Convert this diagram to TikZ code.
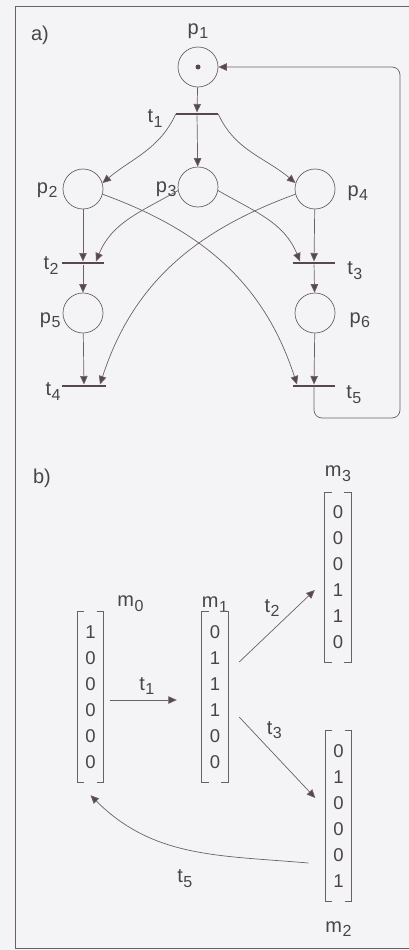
\documentclass[tikz,border=0pt]{standalone}
\usepackage{fontspec}
\setmainfont{Liberation Sans}
\usetikzlibrary{arrows.meta,positioning}

\definecolor{inkline}{RGB}{108,96,104}
\definecolor{inktip}{RGB}{88,70,80}
\definecolor{inktext}{RGB}{72,68,72}
\definecolor{paper}{RGB}{244,244,246}

% letter with a lowered index
\newcommand{\ix}[2]{#1\kern0.5pt\raisebox{-4.5pt}{\fontsize{16}{16}\selectfont#2}}

\tikzset{
  pnode/.style={circle, draw=inkline, line width=0.7pt, minimum size=40pt, inner sep=0pt},
  tbar/.style={rectangle, fill=inktip, minimum width=42pt, minimum height=2.6pt, inner sep=0pt},
  flow/.style={draw=inkline, line width=0.7pt, -{Triangle[length=8.5pt,width=7.5pt,fill=inktip]}},
  vec/.style={align=center, inner xsep=0pt, minimum width=26pt, minimum height=170pt,
              font=\fontsize{18.5}{26}\selectfont},
  brk/.style={draw=inkline, line width=0.7pt},
  tlab/.style={inner sep=0pt, anchor=center},
  every label/.style={font=\fontsize{20}{22}\selectfont, text=inktext, inner sep=0pt},
}

\begin{document}
\begin{tikzpicture}[x=1pt, y=1pt, font=\fontsize{20}{22}\selectfont, text=inktext]
  \fill[paper] (0,0) rectangle (409,-950);
  \useasboundingbox (0,0) rectangle (409,-950);
  \draw[inkline, line width=1pt] (409,-7) -- (15,-7) -- (15,-948) -- (409,-948);

  % a) the net
  \node (la) at (40,-35) {a)};
  \node[pnode, label={[label distance=7.5pt]above:{\ix{p}{1}}}] (p1) at (198,-67) {};
  \fill[inktip] (p1) circle (2.5pt);
  \node[tbar, label={[label distance=13pt, yshift=-4.5pt]left:{\ix{t}{1}}}] (t1) at (197,-114) {};
  \node[pnode, label={[label distance=5pt, yshift=-1pt]left:{\ix{p}{2}}}] (p2) at (83,-189) {};
  \node[pnode, label={[label distance=1pt, yshift=-2pt]left:{\ix{p}{3}}}] (p3) at (198,-187) {};
  \node[pnode, label={[label distance=12pt, yshift=-4pt]right:{\ix{p}{4}}}] (p4) at (315,-189) {};
  \node[tbar, label={[label distance=3pt, yshift=-2.5pt]left:{\ix{t}{2}}}] (t2) at (83,-263) {};
  \node[tbar, label={[label distance=12pt, yshift=-7.5pt]right:{\ix{t}{3}}}] (t3) at (314,-263) {};
  \node[pnode, label={[label distance=2pt, yshift=-7pt]left:{\ix{p}{5}}}] (p5) at (83,-313) {};
  \node[pnode, label={[label distance=14pt, yshift=-7pt]right:{\ix{p}{6}}}] (p6) at (315,-313) {};
  \node[tbar, minimum width=44pt, label={[label distance=1pt, yshift=-5.5pt]left:{\ix{t}{4}}}] (t4) at (84,-386) {};
  \node[tbar, label={[label distance=11pt, yshift=-8.5pt]right:{\ix{t}{5}}}] (t5) at (314,-386) {};
  \coordinate (loop) at (400,-418);

  \draw[flow] (p1) -- (t1);
  \draw[flow] (t1) -- (p3);
  \draw[flow] (t1.west) to[out=245, in=40] (p2.17);
  \draw[flow] (t1.east) to[out=295, in=140] (p4.163);
  \draw[flow] (p2) -- (t2);
  \draw[flow] (p4) -- (t3);
  \draw[flow] (t2) -- (p5);
  \draw[flow] (t3) -- (p6);
  \draw[flow] (p5) -- (t4);
  \draw[flow] (p6) -- (t5);
  \draw[flow] (p3.190) to[out=210, in=68] ([xshift=13pt]t2.north);
  \draw[flow] (p3.-10) to[out=-30, in=112] ([xshift=-14pt]t3.north);
  \draw[flow] (p2.-15) to[out=-20, in=108] ([xshift=-17pt]t5.north);
  \draw[flow] (p4.195) to[out=200, in=72] ([xshift=16pt]t4.north);
  \draw[flow, rounded corners=8pt] (t5.center) |- (loop) |- (p1.east);

  % b) the markings
  \node (lb) at (42,-478) {b)};
  \node[vec, label={[xshift=40pt]above:{\ix{m}{0}}}] (m0) at (90.5,-697) {1\\0\\0\\0\\0\\0};
  \node[vec, label={[label distance=-0.5pt]above:{\ix{m}{1}}}] (m1) at (215,-697) {0\\1\\1\\1\\0\\0};
  \node[vec, label={[label distance=20pt]below:{\ix{m}{2}}}] (m2) at (338.5,-816) {0\\1\\0\\0\\0\\1};
  \node[vec, label={[label distance=10.5pt]above:{\ix{m}{3}}}] (m3) at (338,-577.5) {0\\0\\0\\1\\1\\0};

  \foreach \m in {m0,m1,m2,m3}{
    \draw[brk] ([xshift=7pt]\m.north west) -- (\m.north west) -- (\m.south west) -- ([xshift=7pt]\m.south west);
    \draw[brk] ([xshift=-7pt]\m.north east) -- (\m.north east) -- (\m.south east) -- ([xshift=-7pt]\m.south east);
  }

  \draw[flow] ([xshift=6pt, yshift=-3pt]m0.east) -- node[tlab, shift={(3.5pt,14pt)}] {\ix{t}{1}} ([xshift=-25pt, yshift=-3pt]m1.west);
  \draw[flow] ([xshift=11pt, yshift=35pt]m1.east) -- node[tlab, shift={(-5pt,18pt)}] {\ix{t}{2}} ([xshift=-10pt, yshift=-12.5pt]m3.west);
  \draw[flow] ([xshift=11pt, yshift=-20pt]m1.east) -- node[tlab, shift={(-3pt,27.5pt)}] {\ix{t}{3}} ([xshift=-10pt, yshift=18pt]m2.west);
  \draw[flow] ([xshift=-17pt, yshift=-47pt]m2.west) to[out=175, in=-45] node[tlab, shift={(-5pt,-29pt)}] {\ix{t}{5}} ([yshift=-13pt]m0.south);
\end{tikzpicture}
\end{document}
